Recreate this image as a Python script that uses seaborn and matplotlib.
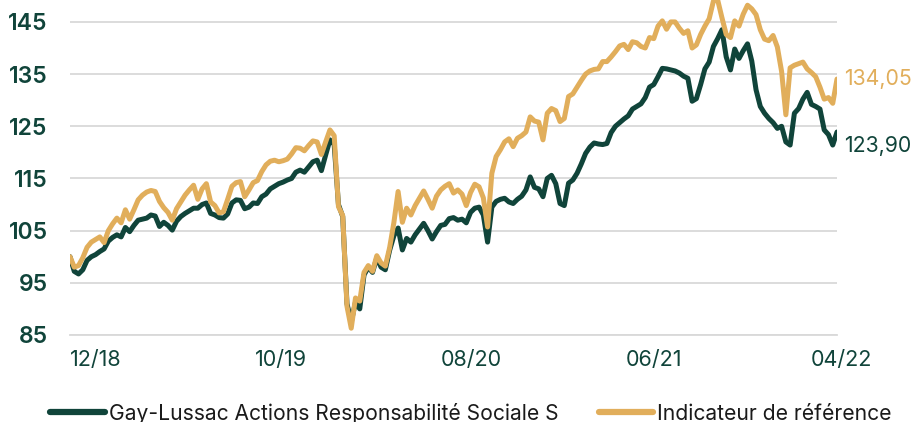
import pandas as pd
import seaborn as sns
import matplotlib.pyplot as plt

# weekly values (base 100 at 12/18)
fonds = [100.0, 97.2, 96.7, 97.5, 99.3, 100.0, 100.4, 101.0, 101.5, 103.0,
         103.7, 104.2, 103.8, 105.6, 104.8, 106.0, 107.0, 107.2, 107.4, 108.0,
         107.8, 105.8, 106.6, 106.0, 105.1, 106.8, 107.7, 108.3, 108.8, 109.3,
         109.3, 110.0, 110.3, 108.3, 108.0, 107.5, 107.4, 108.2, 110.3, 110.9,
         110.8, 109.2, 109.5, 110.3, 110.2, 111.5, 112.0, 113.0, 113.5, 114.0,
         114.3, 114.7, 115.0, 116.2, 116.6, 116.2, 117.2, 118.2, 118.5, 116.5,
         119.5, 122.4, 121.5, 110.0, 107.7, 91.0, 87.5, 91.3, 90.0, 96.5,
         98.0, 97.0, 99.8, 98.0, 97.5, 101.2, 104.0, 105.5, 101.3, 103.5,
         102.8, 104.2, 105.3, 106.4, 105.0, 103.4, 104.8, 106.0, 106.2, 107.3,
         107.5, 107.0, 107.2, 106.5, 108.5, 109.3, 109.5, 108.0, 102.8, 109.5,
         110.6, 111.0, 111.2, 110.5, 110.2, 111.0, 111.6, 112.8, 115.3, 113.3,
         113.0, 111.5, 115.0, 115.6, 114.0, 110.2, 109.8, 114.1, 114.7, 116.0,
         117.8, 119.8, 121.0, 121.8, 121.6, 121.5, 121.7, 123.8, 125.0, 125.7,
         126.4, 127.0, 128.3, 128.8, 129.3, 130.5, 132.5, 133.0, 134.5, 136.1,
         136.0, 135.8, 135.6, 135.2, 134.6, 134.2, 129.8, 130.3, 133.0, 136.0,
         137.3, 140.3, 141.8, 143.5, 138.3, 135.8, 139.8, 138.0, 139.5, 140.8,
         137.5, 132.0, 128.8, 127.5, 126.5, 125.7, 124.6, 125.0, 122.0, 121.4,
         127.5, 128.4, 130.2, 131.5, 129.2, 128.8, 128.3, 124.3, 123.4, 121.4,
         123.9]

indice = [100.0, 98.0, 98.3, 99.8, 101.8, 102.8, 103.3, 103.8, 102.7, 105.0,
          106.3, 107.4, 106.5, 109.0, 107.2, 109.0, 110.9, 111.8, 112.4, 112.7,
          112.5, 110.6, 109.4, 108.5, 107.0, 109.2, 110.5, 111.8, 112.8, 113.7,
          111.0, 113.0, 114.0, 110.5, 109.8, 108.4, 108.6, 111.0, 113.5, 114.2,
          114.4, 111.5, 112.8, 114.2, 114.6, 116.3, 117.6, 118.3, 118.5, 118.2,
          118.4, 118.7, 119.7, 120.9, 120.8, 120.3, 121.3, 122.2, 122.0, 119.6,
          122.0, 124.3, 123.2, 109.6, 107.9, 90.5, 86.3, 92.1, 91.5, 97.0,
          98.3, 97.2, 100.2, 98.8, 98.2, 101.7, 106.5, 112.5, 106.6, 109.3,
          108.0, 109.8, 111.2, 112.6, 111.0, 109.3, 111.6, 112.8, 113.5, 114.0,
          112.2, 112.8, 112.0, 109.8, 112.3, 113.9, 113.4, 111.3, 105.7, 116.0,
          119.2, 120.5, 122.0, 122.6, 121.1, 122.7, 123.2, 123.9, 126.8, 126.0,
          125.8, 122.4, 127.5, 128.4, 128.0, 125.9, 126.5, 130.7, 131.2, 132.5,
          133.8, 135.0, 135.6, 135.9, 136.0, 137.4, 137.4, 138.3, 139.3, 140.4,
          140.7, 139.7, 141.2, 141.0, 140.3, 140.0, 142.0, 141.8, 144.2, 145.2,
          143.6, 145.0, 145.0, 143.8, 142.8, 143.3, 140.0, 140.6, 142.6, 144.2,
          145.6, 149.0, 149.2, 145.8, 142.6, 142.0, 145.2, 144.2, 146.5, 148.2,
          147.5, 146.4, 143.5, 141.7, 141.4, 142.4, 140.2, 135.5, 127.2, 136.2,
          136.7, 137.0, 137.3, 136.0, 135.3, 134.5, 132.5, 130.2, 130.5, 129.4,
          134.05]

noms = ["Gay-Lussac Actions Responsabilité Sociale S", "Indicateur de référence"]
tick_dates = ["2018-12-28", "2019-10-28", "2020-08-28", "2021-06-28", "2022-04-28"]
tick_labels = ["12/18", "10/19", "08/20", "06/21", "04/22"]
yticks = [85, 95, 105, 115, 125, 135, 145]

VERT = "#10443a"
OR = "#e1ae5b"
GRIS = "#d9d9d9"

dates = pd.date_range("2018-12-28", periods=len(fonds), freq="7D")
df = pd.DataFrame({"date": list(dates) * 2,
                   "valeur": fonds + indice,
                   "serie": [noms[0]] * len(fonds) + [noms[1]] * len(indice)})

sns.set_theme(style="white")
plt.rcParams["font.family"] = ["Inter", "DejaVu Sans"]

fig = plt.figure(figsize=(9.13, 4.22), dpi=100)
ax = fig.add_axes([70 / 913, 87 / 422, 767 / 913, 335 / 422])

sns.lineplot(data=df, x="date", y="valeur", hue="serie", hue_order=noms,
             palette=[VERT, OR], linewidth=3.6, ax=ax)
for l in ax.get_lines():
    l.set_solid_joinstyle("round")
    l.set_solid_capstyle("round")

ax.set_xlim(dates[0], dates[-1])
ax.set_ylim(85, 149.2)
ax.set_yticks(yticks)
ax.set_xticks(pd.to_datetime(tick_dates))
ax.set_xticklabels(tick_labels, ha="left")
ax.set_xlabel("")
ax.set_ylabel("")
ax.grid(axis="y", color=GRIS, linewidth=1.3)
ax.set_axisbelow(True)
for s in ["left", "right", "top"]:
    ax.spines[s].set_visible(False)
ax.spines["bottom"].set_color(GRIS)
ax.spines["bottom"].set_linewidth(1.3)

ax.tick_params(axis="y", length=0, pad=16, labelsize=16.5, labelcolor=VERT)
for t in ax.get_yticklabels():
    t.set_fontweight("semibold")
ax.tick_params(axis="x", length=5, width=1, color=GRIS, pad=6,
               labelsize=15.5, labelcolor=VERT)

# end values
ax.annotate("134,05", (dates[-1], indice[-1]), xytext=(5, 0),
            textcoords="offset points", va="center", ha="left",
            color=OR, fontsize=15.3, annotation_clip=False)
ax.annotate("123,90", (dates[-1], fonds[-1]), xytext=(5, -10),
            textcoords="offset points", va="center", ha="left",
            color=VERT, fontsize=15.3, annotation_clip=False)

h, lab = ax.get_legend_handles_labels()
ax.get_legend().remove()
leg = fig.legend(h, lab, loc="center left", bbox_to_anchor=(50 / 913, 9 / 422),
                 ncol=2, frameon=False, fontsize=15.15, handlelength=2.6,
                 handletextpad=0.2, columnspacing=1.9, borderpad=0, borderaxespad=0)
for l in leg.get_lines():
    l.set_linewidth(4.5)
    l.set_solid_capstyle("round")
for t in leg.get_texts():
    t.set_color("#1a1a1a")

fig.savefig("out.png", dpi=100)
